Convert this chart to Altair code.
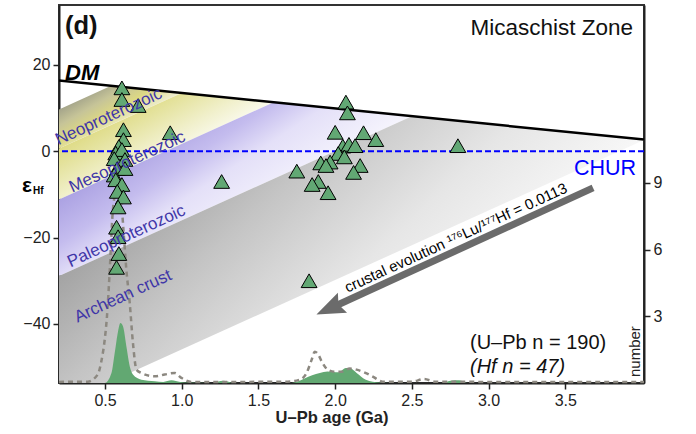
import altair as alt
import numpy as np
import pandas as pd

FONT = "Liberation Sans"

# ---------------- axis ranges ----------------
X_DOMAIN = [0.2, 4.013]
EPS_DOMAIN = [-53.7, 33.9]
NUM_DOMAIN = [0, 17]

# ---------------- model lines ----------------
dm_age = [0.2, 4.013]          # depleted mantle line (Ga)
dm_eps = [16.4, 2.7]           # eps Hf of DM
era_bounds = [0.54, 1.0, 1.6, 2.5, 4.02]   # ages where crustal evolution lines leave DM
era_names = ["Neoproterozoic", "Mesoproterozoic", "Paleoproterozoic", "Archean crust"]
crust_slope = 16.1             # eps per Ga (176Lu/177Hf = 0.0113)

# ---------------- zircon Hf data ----------------
hf_age = [0.61, 0.61, 0.716, 0.62, 0.62, 0.59, 0.57, 0.61, 0.56, 0.63, 0.58, 0.63,
          0.56, 0.57, 0.61, 0.58, 0.62, 0.585, 0.575, 0.585, 0.59, 0.575,
          0.925, 1.26,
          2.07, 2.08, 2.0, 2.185, 2.265, 2.05, 2.09, 2.13, 2.02, 2.06, 1.906, 1.967,
          1.94, 2.163, 1.75, 2.12, 1.89, 1.85, 1.954, 2.8, 1.83]
hf_eps = [14.7, 12.0, 10.6, 5.0, 2.7, 1.1, -0.4, 0.4, -1.7, -1.9, -4.0, -4.0,
          -5.5, -6.6, -7.7, -9.3, -10.6, -12.9, -17.6, -19.8, -23.7, -26.9,
          4.3, -7.0,
          11.4, 8.9, 4.4, 4.3, 2.7, 1.2, 1.6, 1.3, -0.5, -1.3, -2.7, -2.5,
          -3.3, -3.3, -4.6, -4.9, -7.0, -7.7, -9.6, 1.3, -30.0]

# ---------------- U-Pb age distribution (dashed) ----------------
upb_age = [0.2, 0.387, 0.452, 0.478, 0.498, 0.511, 0.531, 0.55, 0.573, 0.585, 0.602,
           0.622, 0.639, 0.661, 0.682, 0.705, 0.737, 0.824, 0.889, 0.954, 0.998, 1.063,
           1.4, 1.69, 1.77, 1.815, 1.847, 1.867, 1.89, 1.913, 1.952, 1.997, 2.043,
           2.095, 2.14, 2.193, 2.245, 2.31, 2.5, 2.58, 2.65, 3.0, 3.5, 4.013]
upb_num = [0.05, 0.06, 0.38, 1.05, 1.95, 2.85, 5.1, 7.67, 8.7, 9.0, 8.5,
           6.7, 5.1, 3.6, 1.8, 0.6, 0.45, 0.3, 0.38, 0.45, 0.23, 0.05,
           0.05, 0.06, 0.15, 0.47, 1.05, 1.41, 1.28, 0.96, 0.6, 0.51, 0.51,
           0.65, 0.6, 0.47, 0.29, 0.06, 0.06, 0.18, 0.06, 0.05, 0.05, 0.05]

# ---------------- Hf sample age distribution (green) ----------------
hfk_age = [0.2, 0.498, 0.542, 0.563, 0.585, 0.6, 0.617, 0.639, 0.661, 0.682, 0.737,
           0.824, 0.88, 0.933, 0.99, 1.04, 1.2, 1.27, 1.34, 1.70, 1.76, 1.80, 1.85,
           1.9, 1.95, 1.99, 2.02, 2.07, 2.1, 2.14, 2.2, 2.29, 2.35, 2.7, 2.75, 2.81,
           2.86, 4.013]
hfk_num = [0, 0, 0.45, 1.35, 2.33, 2.7, 2.55, 1.65, 0.75, 0.38, 0.15,
           0.08, 0.05, 0.12, 0.05, 0.02, 0.0, 0.1, 0.0, 0.0, 0.08, 0.2, 0.35,
           0.45, 0.52, 0.5, 0.48, 0.68, 0.66, 0.45, 0.15, 0.02, 0.0, 0.0, 0.1, 0.12,
           0.0, 0.0]

# arrow (age, eps)
arrow_start = [3.681, -8.48]
arrow_base = [1.997, -35.92]
arrow_tip = [1.878, -37.85]
arrow_angle = 245.4
text_angle = 335.4

# era label positions (age, eps)
era_lab_age = [0.524, 0.645, 0.639, 0.617]
era_lab_eps = [8.0, -2.5, -19.7, -33.6]

# band gradients: (x1, y1, x2, y2), stops
band_grad = [
    ((0, 0, 0.75, 0.66), [(0.0, "#96967e"), (0.25, "#a4a48a"), (0.42, "#c6c498"),
                          (0.6, "#dcd884"), (0.82, "#efeed2"), (1.0, "#f8f8ec")]),
    ((0, 0, 0.75, 0.66), [(0.0, "#dcd87c"), (0.3, "#dcd87c"), (0.45, "#e4e29c"),
                          (0.66, "#f1f0cc"), (0.82, "#fafaee"), (1.0, "#fdfdf8")]),
    ((0, 0, 0.8, 0.6), [(0.0, "#a298de"), (0.3, "#a69ce0"), (0.49, "#c4bcee"),
                        (0.62, "#e4e0f8"), (0.85, "#f6f5fd"), (1.0, "#fbfbff")]),
    ((0, 0, 0.883, 0.47), [(0.0, "#969696"), (0.25, "#a2a2a2"), (0.45, "#c4c4c4"),
                           (0.55, "#d2d2d2"), (0.7, "#e6e6e6"), (0.9, "#f6f6f6"),
                           (1.0, "#fbfbfb")]),
]


def dm(t):
    return float(np.interp(t, dm_age, dm_eps))


XS = alt.Scale(domain=X_DOMAIN, nice=False, zero=False)
ES = alt.Scale(domain=EPS_DOMAIN, nice=False, zero=False)
NS = alt.Scale(domain=NUM_DOMAIN, nice=False, zero=False)

XAX = alt.Axis(values=[0.5, 1.0, 1.5, 2.0, 2.5, 3.0, 3.5], format=".1f",
               title="U–Pb age (Ga)", titleFont=FONT, titleFontSize=16.5,
               titleFontWeight="bold", titleColor="#222", titleX=272.5, titleY=39,
               titleBaseline="alphabetic", titleAlign="center")
EAX = alt.Axis(values=[-40, -20, 0, 20], title=None, orient="left")
NAX = alt.Axis(values=[3, 6, 9], title=None, orient="right")


def X(f="t"):
    return alt.X(f"{f}:Q", scale=XS, axis=XAX)


# ---------- group 1: bands, DM, CHUR ----------
g1 = []
for i in range(4):
    ta, tb = era_bounds[i], era_bounds[i + 1]
    x0 = X_DOMAIN[0]
    df = pd.DataFrame({
        "t": [x0, ta, tb],
        "top": [dm(ta) - crust_slope * (ta - x0), dm(ta), dm(tb)],
        "bot": [dm(tb) - crust_slope * (tb - x0), dm(tb) - crust_slope * (tb - ta), dm(tb)],
    })
    (x1, y1, x2, y2), stops = band_grad[i]
    grad = alt.Gradient(gradient="linear", x1=x1, y1=y1, x2=x2, y2=y2,
                        stops=[alt.GradientStop(offset=o, color=c) for o, c in stops])
    g1.append(alt.Chart(df).mark_area(color=grad, clip=True).encode(
        x=X(), y=alt.Y("top:Q", scale=ES, axis=EAX), y2="bot:Q"))

dm_df = pd.DataFrame({"t": dm_age, "eps": dm_eps})
g1.append(alt.Chart(dm_df).mark_line(color="black", strokeWidth=2.5, clip=True).encode(
    x=X(), y=alt.Y("eps:Q", scale=ES, axis=EAX)))

chur_df = pd.DataFrame({"eps": [0.0]})
g1.append(alt.Chart(chur_df).mark_rule(color="#0000ff", strokeWidth=2, strokeDash=[6, 3]).encode(
    y=alt.Y("eps:Q", scale=ES, axis=EAX)))

G1 = alt.layer(*g1)

# ---------- group 2: age distributions (right axis) ----------
hfk_df = pd.DataFrame({"t": hfk_age, "n": hfk_num})
upb_df = pd.DataFrame({"t": upb_age, "n": upb_num})
G2 = alt.layer(
    alt.Chart(hfk_df).mark_area(color="#62a872", interpolate="monotone").encode(
        x=X(), y=alt.Y("n:Q", scale=NS, axis=NAX)),
    alt.Chart(upb_df).mark_line(color="#8c8880", strokeWidth=2.5, strokeDash=[5, 4],
                                interpolate="monotone").encode(
        x=X(), y=alt.Y("n:Q", scale=NS, axis=NAX)),
)

# ---------- group 3: points, arrow, labels ----------
def Y3(f="eps"):
    return alt.Y(f"{f}:Q", scale=ES, axis=None)


pts_df = pd.DataFrame({"t": hf_age, "eps": hf_eps})
g3 = [alt.Chart(pts_df).mark_point(shape="triangle-up", size=250, filled=True,
                                   fill="#62a874", stroke="black", strokeWidth=1,
                                   opacity=1).encode(x=X(), y=Y3())]

shaft_df = pd.DataFrame({"t": [arrow_start[0]], "eps": [arrow_start[1]],
                         "t2": [arrow_base[0]], "eps2": [arrow_base[1]]})
g3.append(alt.Chart(shaft_df).mark_rule(color="#6b6b6b", strokeWidth=7, strokeCap="butt").encode(
    x=X(), y=Y3(), x2="t2:Q", y2="eps2:Q"))
head_df = pd.DataFrame({"t": [arrow_tip[0]], "eps": [arrow_tip[1]]})
g3.append(alt.Chart(head_df).mark_point(shape="M0,0L1,2.6L0,2.2L-1,2.6Z", size=484,
                                        angle=arrow_angle, filled=True, fill="#6b6b6b",
                                        strokeWidth=0, opacity=1).encode(x=X(), y=Y3()))

ann_df = pd.DataFrame({"t": [2.80], "eps": [-21.1],
                       "txt": ["crustal evolution ¹⁷⁶Lu/¹⁷⁷Hf = 0.0113"]})
g3.append(alt.Chart(ann_df).mark_text(font=FONT, fontSize=15, angle=text_angle,
                                      align="center", baseline="alphabetic",
                                      color="black").encode(x=X(), y=Y3(), text="txt:N"))

era_df = pd.DataFrame({"t": era_lab_age, "eps": era_lab_eps, "name": era_names})
g3.append(alt.Chart(era_df).mark_text(font=FONT, fontSize=17, angle=text_angle,
                                      align="center", baseline="middle",
                                      color="#3f36a8").encode(x=X(), y=Y3(), text="name:N"))


def label(txt, x, y, size, **kw):
    d = pd.DataFrame({"txt": [txt]})
    return alt.Chart(d).mark_text(font=FONT, fontSize=size, **kw).encode(
        x=alt.value(x), y=alt.value(y), text="txt:N")


g3 += [
    label("(d)", 6, 28.5, 25.5, fontWeight="bold", align="left", baseline="alphabetic", color="#111"),
    label("Micaschist Zone", 574, 30, 22.5, align="right", baseline="alphabetic", color="#111"),
    label("DM", 6, 75, 22, fontWeight="bold", fontStyle="italic", align="left",
          baseline="alphabetic", color="black"),
    label("CHUR", 577, 170, 21.5, align="right", baseline="alphabetic", color="#0000ff"),
    label("(U–Pb n = 190)", 411, 344, 20, align="left", baseline="alphabetic", color="#111"),
    label("(Hf n = 47)", 411, 367.5, 20, fontStyle="italic", align="left",
          baseline="alphabetic", color="#111"),
    label("number", 581, 372, 15, angle=270, align="left", baseline="alphabetic", color="#222"),
    label("ε", -37, 186.7, 21, fontWeight="bold", align="left", baseline="alphabetic", color="black"),
    label("Hf", -26, 189, 10, fontWeight="bold", align="left", baseline="alphabetic", color="black"),
]
G3 = alt.layer(*g3)

chart = alt.layer(G1, G2, G3).resolve_scale(y="independent").properties(
    width=585, height=378,
    padding={"left": 59, "top": 5, "right": 52, "bottom": 51},
    autosize=alt.AutoSizeParams(type="none"),
).configure_axis(
    labelFont=FONT, labelFontSize=16, labelColor="#222", tickColor="#222",
    domainColor="#222", domainWidth=2, tickWidth=1.5, tickSize=6, grid=False,
    labelPadding=3,
).configure_view(stroke="#333", strokeWidth=2)

chart.save("out.html", embed_options={"renderer": "svg", "actions": False})
